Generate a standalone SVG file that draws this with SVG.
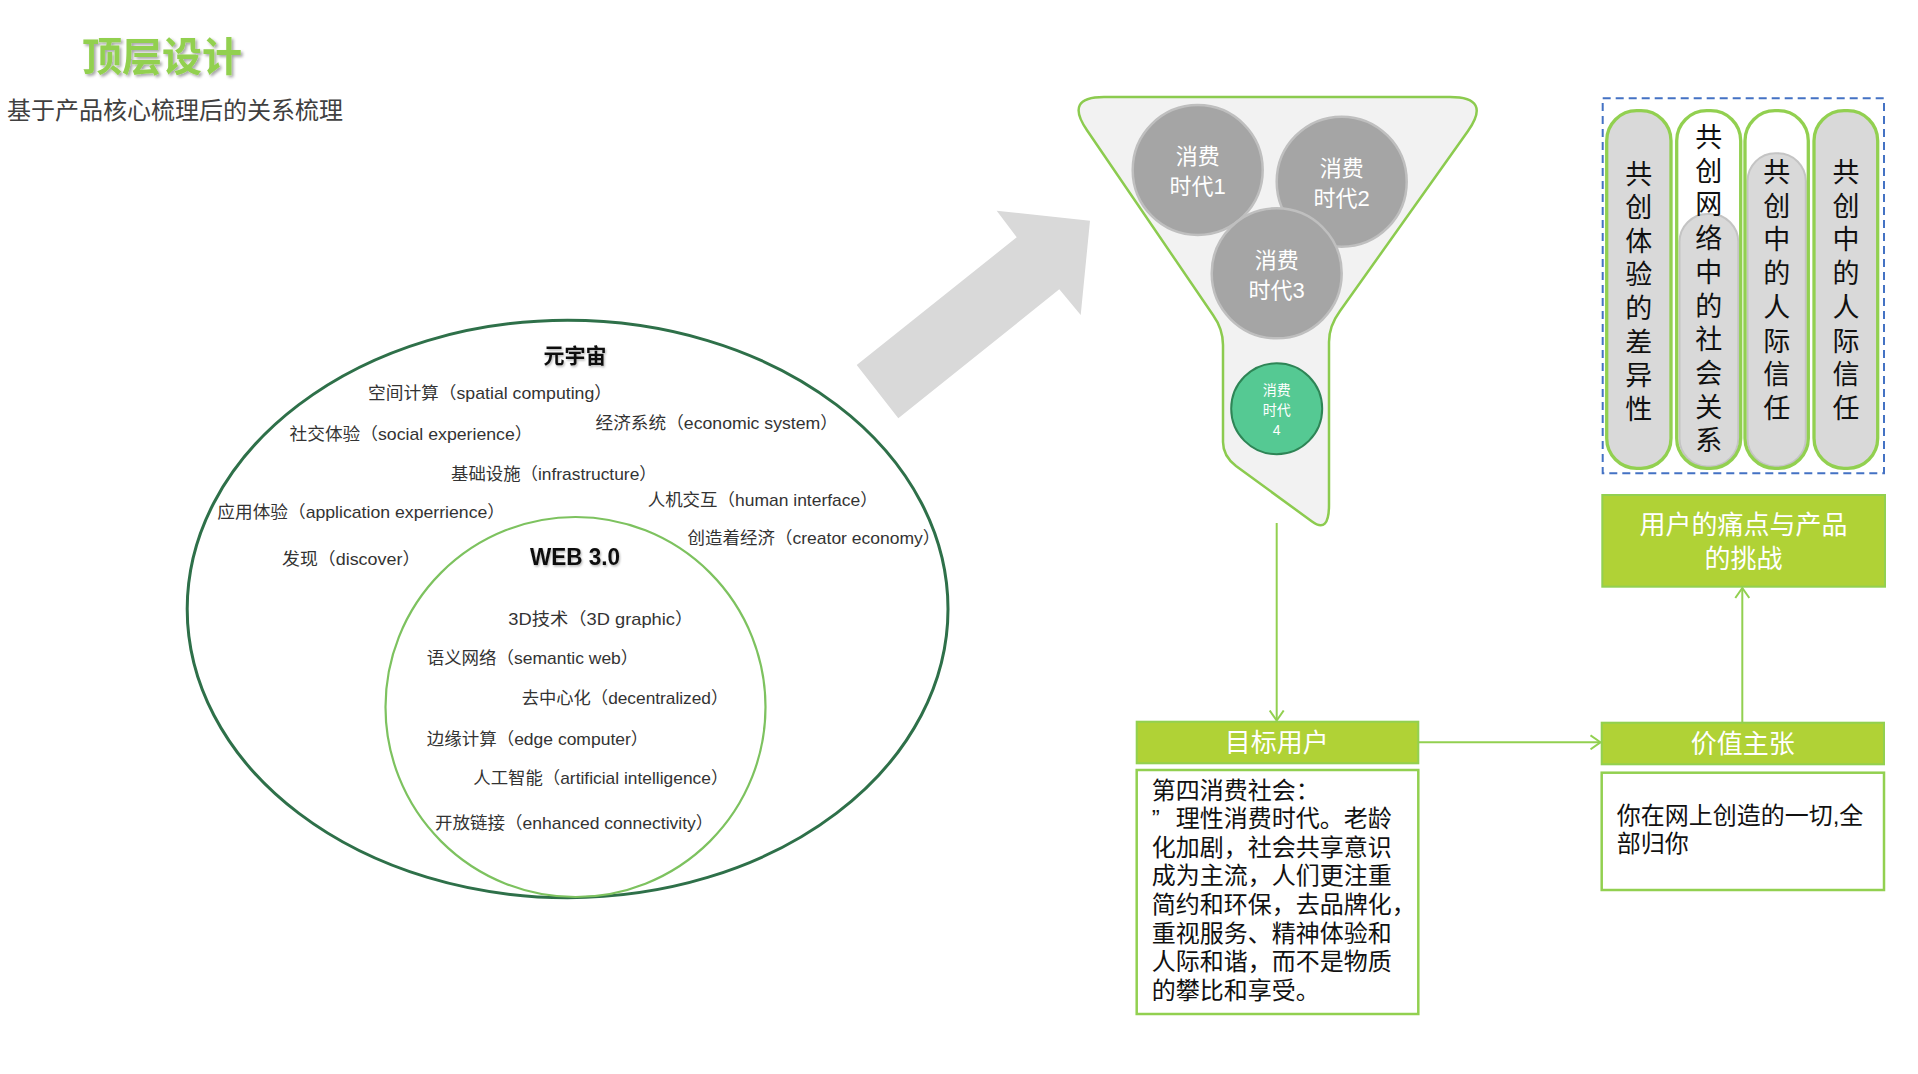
<svg xmlns="http://www.w3.org/2000/svg" width="1918" height="1074" viewBox="0 0 1918 1074">
<defs>
<style>
.cjk{font-family:'Liberation Sans','Noto Sans CJK SC',sans-serif;}
.ot{font-size:17px;fill:#333;}
.it{font-size:17px;fill:#333;}
.pill{font-size:27px;fill:#111;text-anchor:middle;}
.ctxt{font-size:22px;fill:#fff;text-anchor:middle;}
.hdr{fill:#B0D236;stroke:#92D050;stroke-width:2;}
.hdrt{font-size:26px;fill:#fff;text-anchor:middle;}
.box{fill:#fff;stroke:#92D050;stroke-width:2.5;}
.conn{fill:none;stroke:#92D050;stroke-width:2;}
.gpill{fill:#D9D9D9;stroke:#92D050;stroke-width:3.3;}
</style>
<filter id="sh" x="-10%" y="-20%" width="130%" height="150%">
<feDropShadow dx="2" dy="2" stdDeviation="1.5" flood-color="#000" flood-opacity="0.35"/>
</filter>
<filter id="sh2" x="-10%" y="-20%" width="130%" height="150%">
<feDropShadow dx="1" dy="1.5" stdDeviation="1.2" flood-color="#000" flood-opacity="0.3"/>
</filter>
<marker id="chev" viewBox="0 0 12 16" refX="11" refY="8" markerWidth="12" markerHeight="16" markerUnits="userSpaceOnUse" orient="auto">
<path d="M1,1 L11,8 L1,15" fill="none" stroke="#92D050" stroke-width="2"/>
</marker>
</defs>
<rect width="1918" height="1074" fill="#fff"/>

<g id="title">
<text class="cjk" x="82" y="71" font-size="40" font-weight="bold" fill="#92D050" filter="url(#sh)">顶层设计</text>
<text class="cjk" x="7" y="119" font-size="24" fill="#404040">基于产品核心梳理后的关系梳理</text>
</g>

<g id="metaverse">
<ellipse cx="567.6" cy="609" rx="380.4" ry="288.7" fill="none" stroke="#2E7049" stroke-width="3"/>
<text class="cjk" x="575" y="362.5" font-size="21" font-weight="bold" fill="#111" text-anchor="middle" filter="url(#sh2)">元宇宙</text>
<text class="cjk ot" x="368" y="399" textLength="244" lengthAdjust="spacingAndGlyphs">空间计算（spatial computing）</text>
<text class="cjk ot" x="595.5" y="428.5" textLength="242.5" lengthAdjust="spacingAndGlyphs">经济系统（economic system）</text>
<text class="cjk ot" x="289.5" y="440" textLength="243" lengthAdjust="spacingAndGlyphs">社交体验（social experience）</text>
<text class="cjk ot" x="451" y="479.5" textLength="205.7" lengthAdjust="spacingAndGlyphs">基础设施（infrastructure）</text>
<text class="cjk ot" x="647.7" y="505.5" textLength="230" lengthAdjust="spacingAndGlyphs">人机交互（human interface）</text>
<text class="cjk ot" x="217.3" y="517.5" textLength="287.7" lengthAdjust="spacingAndGlyphs">应用体验（application experrience）</text>
<text class="cjk ot" x="687.5" y="543.5" textLength="252.8" lengthAdjust="spacingAndGlyphs">创造着经济（creator economy）</text>
<text class="cjk ot" x="282" y="565" textLength="138.3" lengthAdjust="spacingAndGlyphs">发现（discover）</text>
</g>

<g id="web3">
<circle cx="575.5" cy="707" r="190" fill="none" stroke="#7DC25F" stroke-width="2.2"/>
<text class="cjk" x="575" y="565" font-size="23" font-weight="bold" fill="#111" text-anchor="middle" textLength="90" lengthAdjust="spacingAndGlyphs" filter="url(#sh2)">WEB 3.0</text>
<text class="cjk it" x="508.3" y="625" font-size="19" textLength="185" lengthAdjust="spacingAndGlyphs">3D技术（3D graphic）</text>
<text class="cjk it" x="426.7" y="664.3" textLength="211.6" lengthAdjust="spacingAndGlyphs">语义网络（semantic web）</text>
<text class="cjk it" x="521.7" y="704.3" textLength="206.6" lengthAdjust="spacingAndGlyphs">去中心化（decentralized）</text>
<text class="cjk it" x="426.7" y="745" textLength="221.6" lengthAdjust="spacingAndGlyphs">边缘计算（edge computer）</text>
<text class="cjk it" x="473.3" y="784.3" textLength="255" lengthAdjust="spacingAndGlyphs">人工智能（artificial intelligence）</text>
<text class="cjk it" x="435" y="829.3" textLength="278.3" lengthAdjust="spacingAndGlyphs">开放链接（enhanced connectivity）</text>
</g>

<g id="big-arrow">
<polygon points="898.3,418.3 856.7,365 1016.7,237.3 996.7,210.7 1090,220.7 1080.7,315 1059.3,289.3" fill="#D9D9D9"/>
</g>

<g id="funnel">
<path d="M1104 97 L1450 97 Q1492 97 1468 131 L1340 311 Q1329 326 1329 342 L1329 505 Q1329 534 1312 521.5 L1236 466 Q1223 456 1223 442 L1223 345 Q1223 329 1213 315 L1087 130.2 Q1064 97 1104 97 Z" fill="#F2F2F2" stroke="#8CCB4F" stroke-width="2.5"/>
</g>

<g id="era1">
<circle cx="1197.7" cy="170" r="65" fill="#A5A5A5" stroke="#BFBFBF" stroke-width="2.5"/>
<text class="cjk ctxt" x="1197.7" y="164.4">消费</text>
<text class="cjk ctxt" x="1197.7" y="194.4">时代1</text>
</g>
<g id="era2">
<circle cx="1341.7" cy="181.7" r="65" fill="#A5A5A5" stroke="#BFBFBF" stroke-width="2.5"/>
<text class="cjk ctxt" x="1341.7" y="176">消费</text>
<text class="cjk ctxt" x="1341.7" y="206">时代2</text>
</g>
<g id="era3">
<circle cx="1276.7" cy="273.3" r="65" fill="#A5A5A5" stroke="#BFBFBF" stroke-width="2.5"/>
<text class="cjk ctxt" x="1276.7" y="268">消费</text>
<text class="cjk ctxt" x="1276.7" y="298">时代3</text>
</g>
<g id="era4">
<circle cx="1276.7" cy="408.7" r="45.5" fill="#55C993" stroke="#2E8556" stroke-width="2"/>
<text class="cjk" x="1276.7" y="395.3" font-size="14" fill="#fff" text-anchor="middle">消费</text>
<text class="cjk" x="1276.7" y="414.6" font-size="14" fill="#fff" text-anchor="middle">时代</text>
<text class="cjk" x="1276.7" y="435" font-size="14" fill="#fff" text-anchor="middle">4</text>
</g>

<g id="pillars">
<rect x="1602.7" y="98.3" width="281.3" height="375" fill="none" stroke="#4472C4" stroke-width="2" stroke-dasharray="8 5"/>
<g id="pill1">
<rect class="gpill" x="1606.7" y="110.7" width="64.3" height="357.6" rx="30"/>
<text class="cjk pill"><tspan x="1638.8" y="183.6">共</tspan><tspan x="1638.8" dy="33.6">创</tspan><tspan x="1638.8" dy="33.6">体</tspan><tspan x="1638.8" dy="33.6">验</tspan><tspan x="1638.8" dy="33.6">的</tspan><tspan x="1638.8" dy="33.6">差</tspan><tspan x="1638.8" dy="33.6">异</tspan><tspan x="1638.8" dy="33.6">性</tspan></text>
</g>
<g id="pill2">
<rect x="1676.7" y="110.7" width="64" height="357.6" rx="30" fill="#fff"/>
<rect x="1679.5" y="214" width="58.8" height="252.5" rx="28" fill="#D9D9D9" stroke="#C4C4C4" stroke-width="2"/>
<rect x="1676.7" y="110.7" width="64" height="357.6" rx="30" fill="none" stroke="#92D050" stroke-width="3.3"/>
<text class="cjk pill"><tspan x="1708.7" y="147">共</tspan><tspan x="1708.7" dy="33.7">创</tspan><tspan x="1708.7" dy="33.7">网</tspan><tspan x="1708.7" dy="33.7">络</tspan><tspan x="1708.7" dy="33.7">中</tspan><tspan x="1708.7" dy="33.7">的</tspan><tspan x="1708.7" dy="33.7">社</tspan><tspan x="1708.7" dy="33.7">会</tspan><tspan x="1708.7" dy="33.7">关</tspan><tspan x="1708.7" dy="33.7">系</tspan></text>
</g>
<g id="pill3">
<rect x="1745" y="110.7" width="63.3" height="357.6" rx="30" fill="#fff"/>
<rect x="1747.5" y="153.3" width="58.3" height="313.2" rx="28" fill="#D9D9D9" stroke="#C4C4C4" stroke-width="2"/>
<rect x="1745" y="110.7" width="63.3" height="357.6" rx="30" fill="none" stroke="#92D050" stroke-width="3.3"/>
<text class="cjk pill"><tspan x="1776.7" y="182">共</tspan><tspan x="1776.7" dy="33.7">创</tspan><tspan x="1776.7" dy="33.7">中</tspan><tspan x="1776.7" dy="33.7">的</tspan><tspan x="1776.7" dy="33.7">人</tspan><tspan x="1776.7" dy="33.7">际</tspan><tspan x="1776.7" dy="33.7">信</tspan><tspan x="1776.7" dy="33.7">任</tspan></text>
</g>
<g id="pill4">
<rect class="gpill" x="1814" y="110.7" width="63.7" height="357.6" rx="30"/>
<text class="cjk pill"><tspan x="1845.9" y="182">共</tspan><tspan x="1845.9" dy="33.7">创</tspan><tspan x="1845.9" dy="33.7">中</tspan><tspan x="1845.9" dy="33.7">的</tspan><tspan x="1845.9" dy="33.7">人</tspan><tspan x="1845.9" dy="33.7">际</tspan><tspan x="1845.9" dy="33.7">信</tspan><tspan x="1845.9" dy="33.7">任</tspan></text>
</g>
</g>

<g id="pain-points">
<rect class="hdr" x="1602.3" y="495" width="282.7" height="91.7"/>
<text class="cjk hdrt" font-size="28" x="1743.6" y="533.9">用户的痛点与产品</text>
<text class="cjk hdrt" font-size="28" x="1743.6" y="567.9">的挑战</text>
</g>

<g id="target-user">
<rect class="hdr" x="1136.7" y="721.7" width="281.6" height="41.6"/>
<text class="cjk hdrt" x="1276.7" y="751.6">目标用户</text>
<rect class="box" x="1136.7" y="770" width="281.6" height="244"/>
<g class="cjk" font-size="24" fill="#111">
<text x="1151.7" y="798.5">第四消费社会：</text>
<text y="827.1"><tspan x="1151.7">”</tspan><tspan x="1175.7">理性消费时代。老龄</tspan></text>
<text x="1151.7" y="855.7">化加剧，社会共享意识</text>
<text x="1151.7" y="884.3">成为主流，人们更注重</text>
<text x="1151.7" y="912.9">简约和环保，去品牌化，</text>
<text x="1151.7" y="941.5">重视服务、精神体验和</text>
<text x="1151.7" y="970.1">人际和谐，而不是物质</text>
<text x="1151.7" y="998.7">的攀比和享受。</text>
</g>
</g>

<g id="value-prop">
<rect class="hdr" x="1601.7" y="722.7" width="282.3" height="41.6"/>
<text class="cjk hdrt" x="1742.8" y="752.8">价值主张</text>
<rect class="box" x="1601.7" y="772.7" width="282.3" height="117.3"/>
<text class="cjk" x="1616.7" y="824" font-size="24" fill="#111">你在网上创造的一切,全</text>
<text class="cjk" x="1616.7" y="852.3" font-size="24" fill="#111">部归你</text>
</g>

<g id="connectors">
<path class="conn" d="M1276.7,523 V720.5" marker-end="url(#chev)"/>
<path class="conn" d="M1418.3,742.3 H1600.5" marker-end="url(#chev)"/>
<path class="conn" d="M1742.3,722.7 V588" marker-end="url(#chev)"/>
</g>
</svg>
